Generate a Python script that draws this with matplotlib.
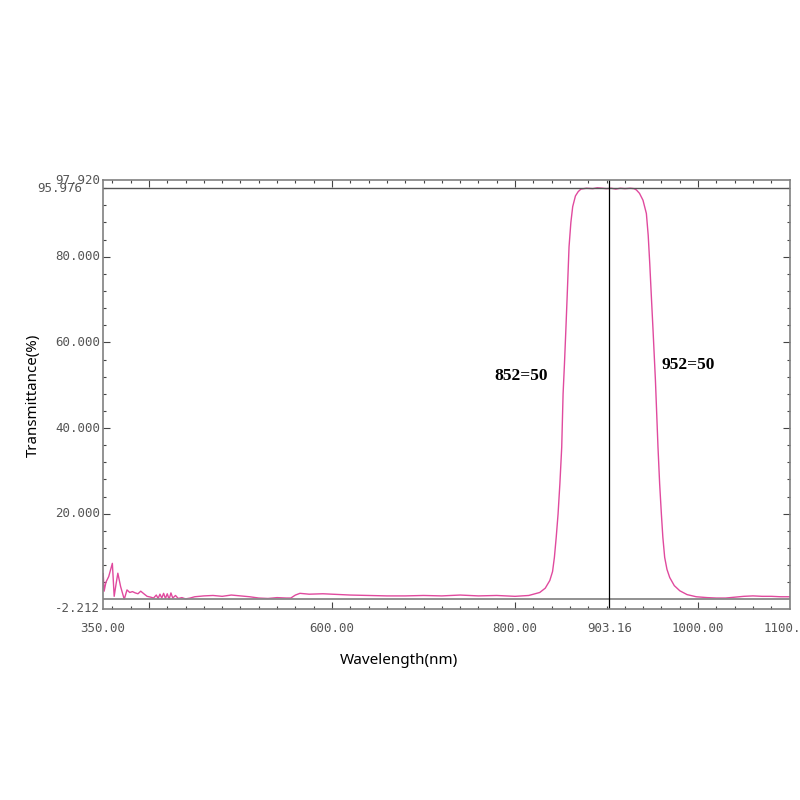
import matplotlib
matplotlib.use("Agg")
import matplotlib.pyplot as plt
import matplotlib.transforms as mtransforms
import numpy as np

# spectrum
wavelength = [350, 351, 353, 356, 360, 362, 364, 366, 369, 373, 376, 379, 382, 385, 388,
              391, 395, 398, 402, 405, 408, 410, 412, 414, 416, 418, 420, 422, 424, 426,
              429, 432, 436, 440, 445, 450, 460, 470, 480, 490, 500, 510, 520, 530, 540,
              550, 555, 560, 565, 575, 590, 600, 620, 640, 660, 680, 700, 720, 740, 760,
              780, 800, 815, 827, 833, 838, 841, 843, 845, 847, 849, 851, 852.5, 854,
              855.5, 857, 859, 861, 863, 866, 869, 872, 878, 885, 890, 895, 900, 905, 910,
              915, 920, 926, 930, 932.6, 936, 939.8, 943.5, 945.5, 947.2, 949, 950.8,
              953.4, 956.2, 958, 959.9, 961.5, 963.5, 966, 969, 974, 980, 988, 998, 1010,
              1020, 1030, 1040, 1050, 1060, 1070, 1080, 1090, 1100]
transmittance = [6.0, 1.9, 4.0, 5.3, 8.4, 0.7, 3.5, 6.1, 3.0, 0.0, 2.2, 1.6, 1.8, 1.5, 1.3,
                 1.9, 1.2, 0.7, 0.5, 0.3, 1.0, 0.2, 1.2, 0.3, 1.4, 0.2, 1.3, 0.0, 1.5, 0.3,
                 0.9, 0.2, 0.4, 0.1, 0.3, 0.6, 0.8, 0.9, 0.7, 1.0, 0.8, 0.6, 0.3, 0.2, 0.4,
                 0.3, 0.3, 1.0, 1.4, 1.2, 1.3, 1.2, 1.0, 0.9, 0.8, 0.8, 0.9, 0.8, 1.0, 0.8,
                 0.9, 0.7, 0.9, 1.6, 2.6, 4.4, 6.5, 9.8, 14.5, 19.9, 27.0, 35.5, 48.0, 55.0,
                 62.8, 71.0, 82.3, 88.0, 91.7, 94.2, 95.2, 95.8, 96.0, 95.9, 96.1, 96.0, 95.9,
                 96.0, 95.8, 96.0, 95.9, 96.0, 95.9, 95.6, 94.8, 93.2, 90.1, 85.0, 78.4,
                 70.5, 62.8, 51.1, 35.5, 27.0, 19.9, 14.5, 9.8, 7.0, 5.1, 3.2, 2.0, 1.1, 0.6,
                 0.4, 0.3, 0.3, 0.5, 0.7, 0.8, 0.7, 0.7, 0.6, 0.6]

x_min, x_max = 350, 1100
y_min, y_max = -2.212, 97.920
peak_line = 95.976
center_wl = 903.16

x_major = [400, 600, 800, 1000]
x_labels = [350, 600, 800, 903.16, 1000, 1100]
y_major = [20, 40, 60, 80]
y_labels = [-2.212, 20, 40, 60, 80, 97.920]

notes = ["852=50", "952=50"]

fig = plt.figure(figsize=(8, 8), dpi=100)
ax = fig.add_axes([0.129, 0.239, 0.858, 0.536])

ax.plot(wavelength, transmittance, color="#e04a9e", lw=1.0)
ax.axhline(peak_line, color="#555555", lw=1.0)
ax.axhline(0, color="#888888", lw=1.3)
ax.axvline(center_wl, color="black", lw=0.9)

ax.set_xlim(x_min, x_max)
ax.set_ylim(y_min, y_max)

ax.set_xticks(x_major)
ax.set_xticks(np.arange(360, 1100, 20), minor=True)
ax.set_yticks(y_major)
ax.set_yticks(np.arange(4, 97, 4), minor=True)
ax.tick_params(which="both", direction="in", top=True, right=True,
               labelbottom=False, labelleft=False, color="#444444")
ax.tick_params(which="major", length=5, width=0.8)
ax.tick_params(which="minor", length=2.2, width=0.8)
for s in ax.spines.values():
    s.set_color("#808080")
    s.set_linewidth(1.2)

tick_font = dict(family="DejaVu Sans Mono", fontsize=9, color="#555555")
xtr = mtransforms.blended_transform_factory(ax.transData, ax.transAxes)
ytr = mtransforms.blended_transform_factory(ax.transAxes, ax.transData)
off = mtransforms.ScaledTranslation(0, -13 / 100, fig.dpi_scale_trans)
for v in x_labels:
    ax.text(v, 0, "%.2f" % v, transform=xtr + off, ha="center", va="top",
            clip_on=False, **tick_font)
offl = mtransforms.ScaledTranslation(-3 / 100, 0, fig.dpi_scale_trans)
for v in y_labels:
    ax.text(0, v, "%.3f" % v, transform=ytr + offl, ha="right", va="center",
            clip_on=False, **tick_font)
offp = mtransforms.ScaledTranslation(-21 / 100, 0, fig.dpi_scale_trans)
ax.text(0, peak_line, "%.3f" % peak_line, transform=ytr + offp, ha="right",
        va="center", clip_on=False, **tick_font)

note_font = dict(family="Liberation Serif", fontsize=12.5, fontweight="bold")
ax.text(836, 52.2, notes[0], ha="right", va="center", **note_font)
ax.text(960.3, 54.7, notes[1], ha="left", va="center", **note_font)

fig.text(0.042, 0.506, "Transmittance(%)", rotation=90, ha="center", va="center",
         family="Noto Sans", fontsize=10.8)
fig.text(0.499, 0.174, "Wavelength(nm)", ha="center", va="center",
         family="Noto Sans", fontsize=11)

fig.savefig("out.png", dpi=100)
